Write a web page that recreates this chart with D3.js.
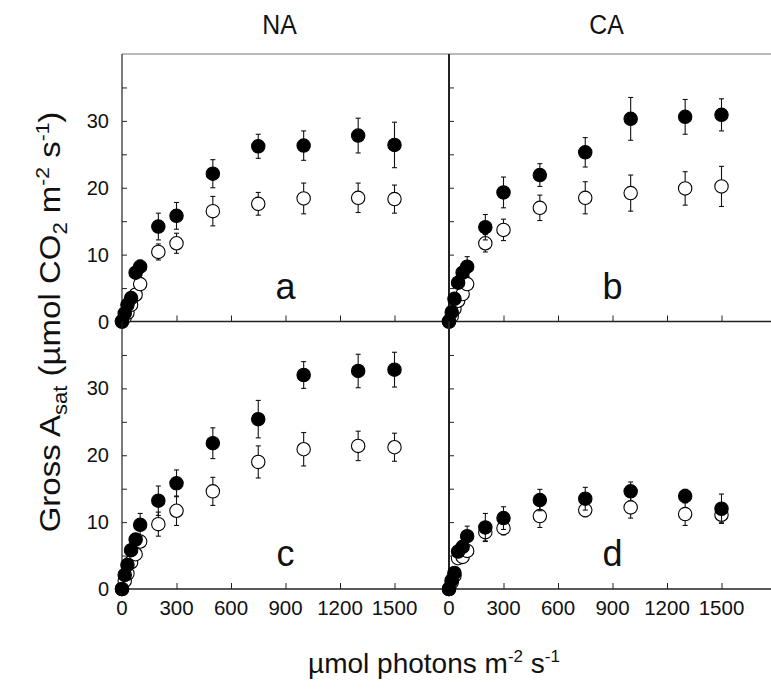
<!DOCTYPE html>
<html>
<head>
<meta charset="utf-8">
<script src="https://cdn.jsdelivr.net/npm/d3@7"></script>
<style>
  body { margin: 0; background: #fff; }
  svg { display: block; font-family: "Liberation Sans", Arial, sans-serif; }
</style>
</head>
<body>
<svg id="drawing_region"></svg>
<script>
// light levels (umol photons m-2 s-1)
const ppfd = [0, 15, 30, 50, 75, 100, 200, 300, 500, 750, 1000, 1300, 1500];

// panel a (NA, top)
const aFilled    = [0, 1.2, 2.5, 3.5, 7.3, 8.2, 14.2, 15.8, 22.1, 26.2, 26.3, 27.8, 26.4];
const aFilledErr = [0.3, 0.4, 0.5, 0.6, 0.8, 1.0, 2.0, 2.0, 2.1, 1.8, 2.2, 2.6, 3.4];
const aOpen      = [0, 0.6, 1.3, 2.5, 4.0, 5.6, 10.4, 11.7, 16.5, 17.6, 18.4, 18.5, 18.3];
const aOpenErr   = [0.2, 0.3, 0.4, 0.5, 0.6, 0.7, 1.2, 1.5, 2.2, 1.7, 2.3, 2.2, 2.1];

// panel b (CA, top)
const bFilled    = [0, 1.4, 3.4, 5.8, 7.3, 8.2, 14.1, 19.3, 21.9, 25.3, 30.3, 30.6, 30.9];
const bFilledErr = [0.3, 0.4, 0.5, 0.6, 0.8, 1.5, 1.9, 2.3, 1.7, 2.2, 3.2, 2.6, 2.4];
const bOpen      = [0, 0.8, 1.9, 3.1, 4.1, 5.6, 11.7, 13.7, 17.0, 18.5, 19.2, 19.9, 20.2];
const bOpenErr   = [0.2, 0.3, 0.4, 0.5, 0.6, 0.7, 1.3, 1.6, 1.9, 2.4, 2.7, 2.5, 3.0];

// panel c (NA, bottom)
const cFilled    = [0, 2.1, 3.6, 5.8, 7.4, 9.6, 13.2, 15.8, 21.8, 25.4, 32.0, 32.6, 32.8];
const cFilledErr = [0.3, 0.4, 0.5, 0.6, 0.8, 1.7, 2.2, 2.0, 2.3, 2.8, 2.0, 2.5, 2.6];
const cOpen      = [0, 1.2, 2.3, 4.0, 5.2, 7.1, 9.7, 11.7, 14.6, 19.0, 20.9, 21.4, 21.2];
const cOpenErr   = [0.2, 0.3, 0.4, 0.5, 0.6, 0.8, 1.8, 2.2, 2.1, 2.4, 2.5, 2.2, 2.1];

// panel d (CA, bottom)
const dFilled    = [0, 1.3, 2.4, 5.6, 6.3, 7.9, 9.2, 10.6, 13.3, 13.5, 14.6, 13.9, 12.0];
const dFilledErr = [0.2, 0.3, 0.4, 0.5, 0.7, 1.5, 2.1, 1.7, 1.6, 1.7, 1.4, 1.0, 2.2];
const dOpen      = [0, 1.0, 2.0, 4.6, 4.8, 5.7, 8.5, 9.1, 10.9, 11.8, 12.2, 11.2, 11.1];
const dOpenErr   = [0.2, 0.3, 0.4, 0.5, 0.6, 0.7, 1.3, 1.0, 1.7, 1.0, 1.6, 1.7, 1.2];

const xTicks = [0, 300, 600, 900, 1200, 1500];
const yTicks = [0, 5, 10, 15, 20, 25, 30, 35];
const yTickLabels = [0, 10, 20, 30];
const columnTitles = ["NA", "CA"];
const panelLetters = ["a", "b", "c", "d"];

const panels = [
    { letter: panelLetters[0], col: 0, row: 0, filled: aFilled, filledErr: aFilledErr, open: aOpen, openErr: aOpenErr },
    { letter: panelLetters[1], col: 1, row: 0, filled: bFilled, filledErr: bFilledErr, open: bOpen, openErr: bOpenErr },
    { letter: panelLetters[2], col: 0, row: 1, filled: cFilled, filledErr: cFilledErr, open: cOpen, openErr: cOpenErr },
    { letter: panelLetters[3], col: 1, row: 1, filled: dFilled, filledErr: dFilledErr, open: dOpen, openErr: dOpenErr }
];

const config = {
    width: 771,
    height: 689,
    left: 122,
    top: 54,
    panel_width: 327,
    panel_height: 267.5,
    r: 6.7
};

const svg = d3.select('#drawing_region')
    .attr('width', config.width)
    .attr('height', config.height);

function label(g, x, y, txt, size, sx, anchor) {
    return g.append('text')
        .attr('transform', `translate(${x},${y}) scale(${sx},1)`)
        .attr('text-anchor', anchor || 'middle')
        .attr('fill', '#111')
        .style('font-size', size + 'px')
        .text(txt);
}

panels.forEach(p => {
    const x0 = config.left + p.col * config.panel_width;
    const y0 = config.top + p.row * config.panel_height;

    const xscale = d3.scaleLinear().domain([0, 1800]).range([0, config.panel_width]);
    const yscale = d3.scaleLinear().domain([0, 40]).range([config.panel_height, 0]);

    const chart = svg.append('g').attr('transform', `translate(${x0},${y0})`);

    // frame
    if (p.row === 0) {
        chart.append('line')
            .attr('x1', 0).attr('x2', config.panel_width)
            .attr('y1', 0).attr('y2', 0)
            .attr('stroke', '#777').attr('stroke-width', 1.2);
    }
    chart.append('line')
        .attr('x1', 0).attr('x2', config.panel_width)
        .attr('y1', config.panel_height).attr('y2', config.panel_height)
        .attr('stroke', '#222').attr('stroke-width', 1.3);
    chart.append('line')
        .attr('x1', 0).attr('x2', 0)
        .attr('y1', 0).attr('y2', config.panel_height)
        .attr('stroke', '#222').attr('stroke-width', p.col === 1 ? 2 : 1.2);

    // axes, ticks pointing inward
    const xaxis = d3.axisBottom(xscale)
        .tickValues(xTicks)
        .tickSizeInner(-6)
        .tickSizeOuter(0)
        .tickFormat('');
    const xg = chart.append('g')
        .attr('transform', `translate(0,${config.panel_height})`)
        .call(xaxis);
    xg.select('.domain').remove();
    xg.selectAll('.tick line').attr('stroke', '#222');

    const yaxis = d3.axisLeft(yscale)
        .tickValues(yTicks)
        .tickSizeInner(-5)
        .tickSizeOuter(0)
        .tickFormat('');
    const yg = chart.append('g').call(yaxis);
    yg.select('.domain').remove();
    yg.selectAll('.tick line').attr('stroke', '#222');

    // tick labels
    if (p.row === 1) {
        xTicks.forEach(t => {
            label(chart, xscale(t), config.panel_height + 26, t, 20.5, 1);
        });
    }
    if (p.col === 0) {
        yTickLabels.forEach(t => {
            label(chart, -13, yscale(t) + 7, t, 20, 1, 'end');
        });
    }

    // open symbols first, filled symbols above
    const series = [
        { vals: p.open, err: p.openErr, fill: '#fff' },
        { vals: p.filled, err: p.filledErr, fill: '#000' }
    ];
    series.forEach(s => {
        const pts = ppfd.map((x, i) => ({ x: x, y: s.vals[i], e: s.err[i] }));
        const eb = chart.append('g').attr('stroke', '#111').attr('stroke-width', 1.1);
        pts.forEach(d => {
            eb.append('line')
                .attr('x1', xscale(d.x)).attr('x2', xscale(d.x))
                .attr('y1', yscale(d.y - d.e)).attr('y2', yscale(d.y + d.e));
            [d.y - d.e, d.y + d.e].forEach(v => {
                eb.append('line')
                    .attr('x1', xscale(d.x) - 2.5).attr('x2', xscale(d.x) + 2.5)
                    .attr('y1', yscale(v)).attr('y2', yscale(v));
            });
        });
        chart.append('g').selectAll('circle')
            .data(pts)
            .enter()
            .append('circle')
            .attr('cx', d => xscale(d.x))
            .attr('cy', d => yscale(d.y))
            .attr('r', config.r)
            .attr('fill', s.fill)
            .attr('stroke', '#000')
            .attr('stroke-width', 1.1);
    });

    // panel letter
    label(chart, xscale(900), config.panel_height - 23, p.letter, 36, 1);
});

// column titles
columnTitles.forEach((t, i) => {
    label(svg, config.left + config.panel_width * (i + 0.5) - 6, 34, t, 27, 0.92);
});

// x axis title
const xt = svg.append('text')
    .attr('transform', `translate(434,673)`)
    .attr('text-anchor', 'middle')
    .attr('fill', '#111')
    .style('font-size', '28px');
xt.append('tspan').text('µmol photons m');
xt.append('tspan').attr('dy', -11).style('font-size', '17px').text('-2');
xt.append('tspan').attr('dy', 11).text(' s');
xt.append('tspan').attr('dy', -11).style('font-size', '17px').text('-1');

// y axis title
const yt = svg.append('text')
    .attr('transform', `translate(60,322) scale(0.88,1) rotate(-90)`)
    .attr('text-anchor', 'middle')
    .attr('fill', '#111')
    .style('font-size', '33px');
yt.append('tspan').text('Gross A');
yt.append('tspan').attr('dy', 8).style('font-size', '22px').text('sat');
yt.append('tspan').attr('dy', -8).text(' (µmol CO');
yt.append('tspan').attr('dy', 8).style('font-size', '22px').text('2');
yt.append('tspan').attr('dy', -8).text(' m');
yt.append('tspan').attr('dy', -13).style('font-size', '21px').text('-2');
yt.append('tspan').attr('dy', 13).text(' s');
yt.append('tspan').attr('dy', -13).style('font-size', '21px').text('-1');
yt.append('tspan').attr('dy', 13).text(')');
</script>
</body>
</html>
